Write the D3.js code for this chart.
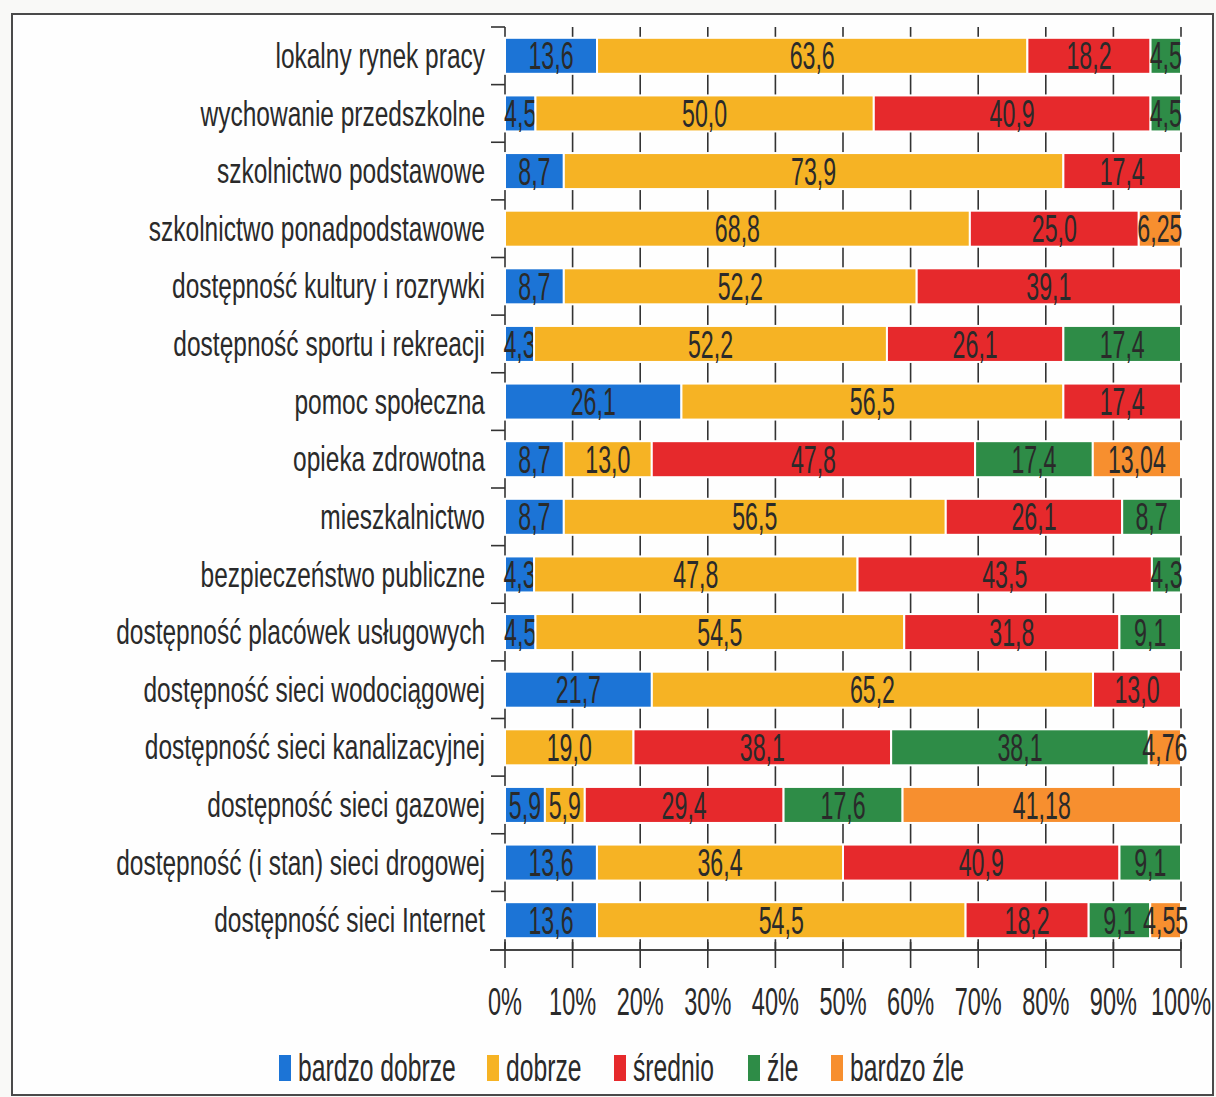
<!DOCTYPE html>
<html><head><meta charset="utf-8">
<script src="https://cdn.jsdelivr.net/npm/d3@7"></script>
<style>
html,body{margin:0;padding:0;background:#f9f9f7;}
svg{display:block;}
text{font-family:"Liberation Sans Narrow","Liberation Sans",sans-serif;fill:#2a2a2a;}
</style></head>
<body>
<svg id="chart" width="1216" height="1097"></svg>
<script>
const categories = [
  "lokalny rynek pracy","wychowanie przedszkolne","szkolnictwo podstawowe","szkolnictwo ponadpodstawowe",
  "dostępność kultury i rozrywki","dostępność sportu i rekreacji","pomoc społeczna","opieka zdrowotna",
  "mieszkalnictwo","bezpieczeństwo publiczne","dostępność placówek usługowych","dostępność sieci wodociągowej",
  "dostępność sieci kanalizacyjnej","dostępność sieci gazowej","dostępność (i stan) sieci drogowej","dostępność sieci Internet"
];
const seriesNames = ["bardzo dobrze","dobrze","średnio","źle","bardzo źle"];
const bardzoDobrze = [13.6, 4.5, 8.7, 0, 8.7, 4.3, 26.1, 8.7, 8.7, 4.3, 4.5, 21.7, 0, 5.9, 13.6, 13.6];
const dobrze       = [63.6, 50.0, 73.9, 68.8, 52.2, 52.2, 56.5, 13.0, 56.5, 47.8, 54.5, 65.2, 19.0, 5.9, 36.4, 54.5];
const srednio      = [18.2, 40.9, 17.4, 25.0, 39.1, 26.1, 17.4, 47.8, 26.1, 43.5, 31.8, 13.0, 38.1, 29.4, 40.9, 18.2];
const zle          = [4.5, 4.5, 0, 0, 0, 17.4, 0, 17.4, 8.7, 4.3, 9.1, 0, 38.1, 17.6, 9.1, 9.1];
const bardzoZle    = [0, 0, 0, 6.25, 0, 0, 0, 13.04, 0, 0, 0, 0, 4.76, 41.18, 0, 4.55];
const tickValues = [0, 0.1, 0.2, 0.3, 0.4, 0.5, 0.6, 0.7, 0.8, 0.9, 1.0];
const colors = ["#1c74d6", "#f6b324", "#e6292c", "#2e8c47", "#f78f2f"];

const seriesArrays = [bardzoDobrze, dobrze, srednio, zle, bardzoZle];
const rows = categories.map((c, i) => {
  const r = {category: c};
  seriesNames.forEach((s, j) => r[s] = seriesArrays[j][i]);
  return r;
});

const svg = d3.select("#chart");
svg.append("rect").attr("x", 12).attr("y", 14).attr("width", 1201).attr("height", 1081)
  .attr("fill", "#fefefe").attr("stroke", "#4a4a4a").attr("stroke-width", 2);

const x = d3.scaleLinear().domain([0, 1]).range([505, 1181]);
const y = d3.scaleBand().domain(categories).range([27, 949]).paddingInner(0.375).paddingOuter(0.1875);

const stack = d3.stack().keys(seriesNames).offset(d3.stackOffsetExpand);
const stacked = stack(rows);

svg.append("g").selectAll("line").data(tickValues).join("line")
  .attr("x1", d => x(d)).attr("x2", d => x(d))
  .attr("y1", 27).attr("y2", 949)
  .attr("stroke", "#333").attr("stroke-width", 1.6);

const step = y.step();
const boundaries = d3.range(categories.length).map(i => 27 + i * step);
svg.append("g").selectAll("line").data(boundaries).join("line")
  .attr("x1", 491).attr("x2", x(0)).attr("y1", d => d).attr("y2", d => d)
  .attr("stroke", "#333").attr("stroke-width", 1.6);

const fmt = v => (Number.isInteger(v * 10) ? v.toFixed(1) : String(v)).replace(".", ",");
stacked.forEach((layer, j) => {
  const g = svg.append("g");
  g.selectAll("rect").data(layer).join("rect")
    .attr("x", d => x(d[0])).attr("width", d => Math.max(0, x(d[1]) - x(d[0])))
    .attr("y", d => y(d.data.category)).attr("height", y.bandwidth())
    .attr("fill", colors[j]).attr("stroke", "#fff").attr("stroke-width", 2)
    .attr("display", d => d.data[seriesNames[j]] > 0 ? null : "none");
  g.selectAll("text").data(layer.filter(d => d.data[seriesNames[j]] > 0)).join("text")
    .attr("transform", d => `translate(${(x(d[0]) + x(d[1])) / 2},${y(d.data.category) + y.bandwidth() / 2 + 1}) scale(0.61,1)`)
    .attr("text-anchor", "middle").attr("dominant-baseline", "central")
    .style("font-size", "38px")
    .text(d => fmt(d.data[seriesNames[j]]));
});

svg.append("g").selectAll("text").data(categories).join("text")
  .attr("transform", d => `translate(485,${y(d) + y.bandwidth() / 2}) scale(0.70,1)`)
  .attr("text-anchor", "end").attr("dominant-baseline", "central")
  .style("font-size", "35px")
  .text(d => d);

const axisY = 950;
const ax = svg.append("g");
ax.append("line").attr("x1", 490).attr("x2", x(1)).attr("y1", axisY).attr("y2", axisY)
  .attr("stroke", "#444").attr("stroke-width", 2);
ax.selectAll("line.tk").data(tickValues).join("line").attr("class", "tk")
  .attr("x1", d => x(d)).attr("x2", d => x(d)).attr("y1", axisY - 8).attr("y2", axisY + 18)
  .attr("stroke", "#333").attr("stroke-width", 1.6);
ax.selectAll("text").data(tickValues).join("text")
  .attr("transform", d => `translate(${x(d)},${1002}) scale(0.62,1)`)
  .attr("text-anchor", "middle").attr("dominant-baseline", "central")
  .style("font-size", "38px")
  .text(d3.format(".0%"));

const legendX = [279, 487, 614, 748, 831];
const lg = svg.append("g").selectAll("g").data(seriesNames).join("g")
  .attr("transform", (d, i) => `translate(${legendX[i]},1068)`);
lg.append("rect").attr("x", 0).attr("y", -13).attr("width", 12).attr("height", 26)
  .attr("fill", (d, i) => colors[i]);
lg.append("text").attr("transform", "translate(19,0) scale(0.65,1)")
  .attr("dominant-baseline", "central").style("font-size", "38px")
  .text(d => d);
</script>
</body></html>
